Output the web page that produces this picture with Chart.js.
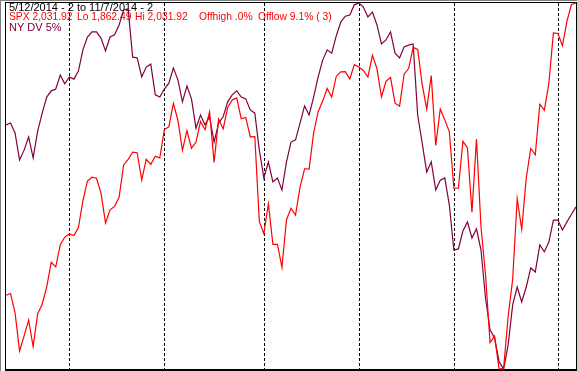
<!DOCTYPE html>
<html>
<head>
<meta charset="utf-8">
<script src="https://cdn.jsdelivr.net/npm/chart.js@4.4.0/dist/chart.umd.min.js"></script>
<style>
  html, body { margin: 0; padding: 0; background: #d4d0c8; }
  #wrap { width: 579px; height: 372px; }
</style>
</head>
<body>
<div id="wrap"><canvas id="grafica" width="579" height="372"></canvas></div>
<script>
// trading days, 5/12/2014 to 11/7/2014
var meses = [5, 6, 7, 8, 9, 10, 11];
var dias = [
  [12,13,14,15,16,19,20,21,22,23,27,28,29,30],
  [2,3,4,5,6,9,10,11,12,13,16,17,18,19,20,23,24,25,26,27,30],
  [1,2,3,7,8,9,10,11,14,15,16,17,18,21,22,23,24,25,28,29,30,31],
  [1,4,5,6,7,8,11,12,13,14,15,18,19,20,21,22,25,26,27,28,29],
  [2,3,4,5,8,9,10,11,12,15,16,17,18,19,22,23,24,25,26,29,30],
  [1,2,3,6,7,8,9,10,13,14,15,16,17,20,21,22,23,24,27,28,29,30,31],
  [3,4,5,6,7]
];

var spx = [
  1896.65,1897.45,1888.53,1870.85,1877.86,1885.08,1872.83,1888.03,1892.49,1900.53,1911.91,1909.78,1920.03,1923.57,
  1924.97,1924.24,1927.88,1940.46,1949.44,1951.27,1950.79,1943.89,1930.11,1936.16,1937.78,1941.99,1956.98,1959.48,1962.87,1962.61,1949.98,1959.53,1957.22,1960.96,1960.23,
  1973.32,1974.62,1985.44,1977.65,1963.71,1972.83,1964.68,1967.57,1977.10,1973.28,1981.57,1958.12,1978.22,1973.63,1983.53,1987.01,1987.98,1978.34,1978.91,1969.95,1970.07,1930.67,
  1925.15,1938.99,1920.21,1920.24,1909.57,1931.59,1936.92,1933.75,1946.72,1955.18,1955.06,1971.74,1981.60,1986.51,1992.37,1988.40,1997.92,2000.02,2000.12,1996.74,2003.37,
  2002.28,2000.72,1997.65,2007.71,2001.54,1988.44,1995.69,1997.45,1985.54,1984.13,1998.98,2001.57,2011.36,2010.40,1994.29,1982.77,1998.30,1965.99,1982.85,1977.80,1972.29,
  1946.16,1946.17,1967.90,1964.82,1935.10,1968.89,1928.21,1906.13,1874.74,1877.70,1862.49,1862.76,1886.76,1904.01,1941.28,1927.11,1950.82,1964.58,1961.63,1985.05,1982.30,1994.65,2018.05,
  2017.81,2012.10,2023.57,2031.21,2031.92
];

// NY DV 5%, read as percent of its own range
var nydv = [
  66.7,67.2,64.5,57.1,59.8,63.4,57.7,65.0,69.9,74.3,76.0,76.5,80.3,77.9,
  79.8,79.2,81.4,87.2,90.7,92.1,92.1,90.4,86.9,90.7,91.3,94.0,98.1,98.4,85.2,85.0,79.8,82.5,83.3,74.9,74.3,
  76.5,78.1,82.2,79.0,73.0,77.3,73.8,65.8,69.4,66.7,68.9,62.0,67.2,68.9,73.0,74.9,76.0,74.3,73.8,70.8,69.9,59.8,
  52.2,56.6,51.1,52.2,48.9,56.6,62.0,62.6,67.2,71.9,69.4,74.3,79.8,84.4,87.2,86.3,91.0,94.8,96.4,96.7,99.5,
  100,98.9,96.2,97.5,94.0,88.8,89.9,92.1,86.3,85.0,88.0,88.5,88.8,69.4,61.7,53.8,56.6,48.9,51.6,52.2,44.8,
  32.5,32.8,37.7,40.2,35.8,38.3,32.5,19.4,10.7,8.5,2.0,0,6.6,17.5,22.4,18.3,22.4,27.6,26.5,33.9,32.0,34.7,40.7,
  40.7,38.0,40.2,42.3,44.3
];

var titulo = "5/12/2014 - 2 to 11/7/2014 - 2";
var textoSpx = ["SPX 2,031.92", "Lo 1,862.49", "Hi 2,031.92", "Offhigh .0%", "Offlow 9.1% ( 3)"];
var textoDv = "NY DV 5%";

var etiquetas = [];
var iniciosMes = [];
for (var m = 0; m < meses.length; m++) {
  for (var d = 0; d < dias[m].length; d++) {
    if (d == 0 && m > 0) iniciosMes.push(etiquetas.length);
    etiquetas.push(meses[m] + "/" + dias[m][d] + "/2014");
  }
}

var fuente = "11px 'Liberation Sans', Arial, sans-serif";
var fuenteChica = "10.3px 'Liberation Sans', Arial, sans-serif";
var posSpx = [9, 77, 135, 199, 258];

var marco = {
  id: 'marco',
  beforeDraw: function(chart) {
    var ctx = chart.ctx;
    ctx.save();
    ctx.fillStyle = '#d4d0c8';
    ctx.fillRect(0, 0, 579, 372);
    ctx.fillStyle = '#ffffff';
    ctx.fillRect(1, 1, 576, 370);
    ctx.fillStyle = '#808080';
    ctx.fillRect(0, 0, 577, 1);
    ctx.fillRect(0, 0, 1, 371);
    ctx.fillStyle = '#000000';
    ctx.fillRect(5, 2, 572, 1);
    ctx.fillRect(5, 2, 1, 369);
    ctx.fillRect(576, 2, 1, 369);
    ctx.fillRect(5, 369, 572, 2);
    ctx.restore();
  },
  beforeDatasetsDraw: function(chart) {
    var ctx = chart.ctx;
    var x = chart.scales.x;
    var area = chart.chartArea;
    ctx.save();
    ctx.strokeStyle = '#000000';
    ctx.lineWidth = 1;
    ctx.setLineDash([3, 2]);
    iniciosMes.forEach(function(i) {
      var px = Math.round(x.getPixelForValue(i)) + 0.5;
      ctx.beginPath();
      ctx.moveTo(px, area.top);
      ctx.lineTo(px, area.bottom);
      ctx.stroke();
    });
    ctx.setLineDash([]);
    ctx.textBaseline = 'top';
    ctx.font = fuente;
    ctx.fillStyle = '#000000';
    ctx.fillText(titulo, 9, 2);
    ctx.font = fuenteChica;
    ctx.fillStyle = '#ff0000';
    textoSpx.forEach(function(t, i) {
      ctx.fillText(t, posSpx[i], 12);
    });
    ctx.font = fuente;
    ctx.fillStyle = '#800040';
    ctx.fillText(textoDv, 9, 22);
    ctx.restore();
  }
};

var grafica = new Chart(document.getElementById("grafica").getContext("2d"), {
  type: 'line',
  data: {
    labels: etiquetas,
    datasets: [{
      label: 'SPX',
      data: spx,
      yAxisID: 'y',
      borderColor: '#ff0000',
      borderWidth: 1.2,
      pointRadius: 0,
      tension: 0
    }, {
      label: 'NY DV 5%',
      data: nydv,
      yAxisID: 'y2',
      borderColor: '#800040',
      borderWidth: 1.2,
      pointRadius: 0,
      tension: 0
    }]
  },
  options: {
    responsive: false,
    animation: false,
    clip: false,
    layout: { padding: { left: 6, right: 3, top: 3, bottom: 3 } },
    scales: {
      x: { display: false },
      y: { display: false, min: 1862.49, max: 2031.92 },
      y2: { display: false, min: 0, max: 100 }
    },
    plugins: {
      legend: { display: false },
      tooltip: { enabled: false }
    }
  },
  plugins: [marco]
});
</script>
</body>
</html>
